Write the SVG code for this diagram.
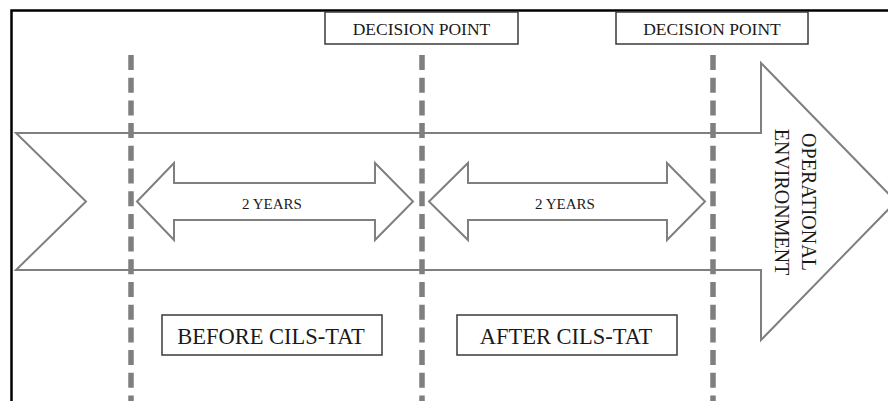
<svg xmlns="http://www.w3.org/2000/svg" width="888" height="401" viewBox="0 0 888 401">
  <style>
    .arrow { fill: #ffffff; stroke: #7f7f7f; stroke-width: 2; stroke-linejoin: miter; }
    .dash { stroke: #7f7f7f; stroke-width: 5.5; stroke-dasharray: 15 7.7; fill: none; }
    .box { fill: #ffffff; stroke: #3a3a3a; stroke-width: 1.5; }
    .t { font-family: "Liberation Serif", "Times New Roman", serif; fill: #1a1a1a; text-anchor: middle; }
    .frame { stroke: #000000; stroke-width: 2.5; fill: none; }
  </style>
  <rect x="0" y="0" width="888" height="401" fill="#ffffff"/>
  <g id="frame">
    <path class="frame" d="M11.5,401 L11.5,10.5 L888,10.5"/>
  </g>
  <g id="timeline-arrow">
    <path class="arrow" d="M16,133 L761,133 L761,63 L896,201.5 L761,340 L761,270 L16,270 L86,201.5 Z"/>
  </g>
  <g id="operational-environment">
    <text class="t" font-size="20" transform="translate(802,202) rotate(90)">OPERATIONAL</text>
    <text class="t" font-size="20" transform="translate(775,202) rotate(90)">ENVIRONMENT</text>
  </g>
  <g id="period-1">
    <path class="arrow" d="M137,201.5 L174,163 L174,183 L375,183 L375,163 L413,201.5 L375,240 L375,220 L174,220 L174,240 Z"/>
    <text class="t" x="272" y="209" font-size="15">2 YEARS</text>
  </g>
  <g id="period-2">
    <path class="arrow" d="M429,201.5 L468,163 L468,183 L667,183 L667,163 L705,201.5 L667,240 L667,220 L468,220 L468,240 Z"/>
    <text class="t" x="565" y="209" font-size="15">2 YEARS</text>
  </g>
  <g id="connectors">
    <line class="dash" x1="131" y1="55" x2="131" y2="401"/>
    <line class="dash" x1="422" y1="55" x2="422" y2="401"/>
    <line class="dash" x1="713" y1="55" x2="713" y2="401"/>
  </g>
  <g id="decision-point-1">
    <rect class="box" x="325" y="12" width="193" height="32"/>
    <text class="t" x="421.5" y="34.5" font-size="17.5">DECISION POINT</text>
  </g>
  <g id="decision-point-2">
    <rect class="box" x="616" y="12" width="192" height="32"/>
    <text class="t" x="712" y="34.5" font-size="17.5">DECISION POINT</text>
  </g>
  <g id="before">
    <rect class="box" x="162" y="315" width="220" height="40"/>
    <text class="t" x="271" y="344" font-size="22.5">BEFORE CILS-TAT</text>
  </g>
  <g id="after">
    <rect class="box" x="457" y="315" width="220" height="40"/>
    <text class="t" x="566" y="344" font-size="22.5">AFTER CILS-TAT</text>
  </g>
</svg>
